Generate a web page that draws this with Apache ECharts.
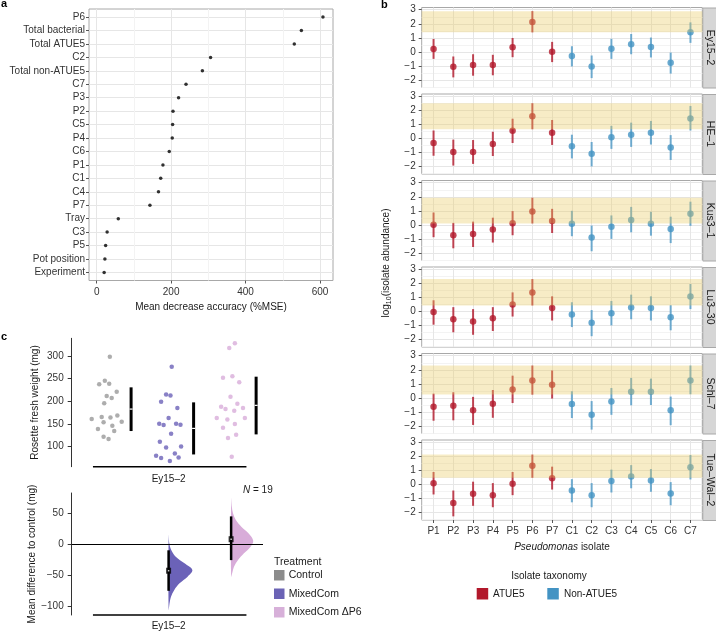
<!DOCTYPE html>
<html>
<head>
<meta charset="utf-8">
<script src="https://cdn.jsdelivr.net/npm/echarts@6/dist/echarts.min.js"></script>
<style>
  html, body { margin: 0; padding: 0; background: #fff; }
  #chart { width: 716px; height: 634px; }
</style>
</head>
<body>
<div id="chart"></div>
<script>
  // ---- panel a: variable importance ----
  var importanceNames = ['P6', 'Total bacterial', 'Total ATUE5', 'C2', 'Total non-ATUE5', 'C7', 'P3', 'P2', 'C5', 'P4',
    'C6', 'P1', 'C1', 'C4', 'P7', 'Tray', 'C3', 'P5', 'Pot position', 'Experiment'];
  var importanceValues = [608, 550, 531, 306, 284, 240, 220, 205, 204, 203, 195, 178, 172, 166, 143, 58, 28, 24, 22, 20];
  var importanceTicks = [0, 200, 400, 600];
  var importanceMinor = [100, 300, 500];

  // ---- panel b: isolate abundance per accession (mean and interval) ----
  var isolates = ['P1', 'P2', 'P3', 'P4', 'P5', 'P6', 'P7', 'C1', 'C2', 'C3', 'C4', 'C5', 'C6', 'C7'];
  var accessions = ['Ey15\u20132', 'HE\u20131', 'Kus3\u20131', 'Lu3\u201330', 'Schl\u20137', 'Tue\u2013Wal\u20132'];
  var abundanceTicks = [-2, -1, 0, 1, 2, 3];
  var abundanceMinor = [-2.5, -1.5, -0.5, 0.5, 1.5, 2.5];

  var ey15Mean = [0.21, -1.06, -0.94, -0.94, 0.33, 2.12, 0.0, -0.3, -1.04, 0.22, 0.55, 0.34, -0.78, 1.4];
  var ey15Lo = [-0.5, -1.82, -1.7, -1.67, -0.38, 1.39, -0.73, -1.04, -1.87, -0.5, -0.17, -0.4, -1.55, 0.64];
  var ey15Hi = [0.92, -0.33, -0.17, -0.21, 0.99, 2.9, 0.71, 0.4, -0.26, 0.93, 1.27, 1.02, -0.05, 2.1];

  var he1Mean = [-0.33, -0.98, -0.98, -0.4, 0.54, 1.57, 0.4, -0.56, -1.1, 0.07, 0.26, 0.4, -0.65, 1.42];
  var he1Lo = [-1.24, -1.94, -1.82, -1.26, -0.33, 0.65, -0.47, -1.43, -2.0, -0.75, -0.61, -0.44, -1.54, 0.56];
  var he1Hi = [0.56, -0.09, -0.12, 0.47, 1.4, 2.5, 1.31, 0.26, -0.26, 0.89, 1.12, 1.24, 0.23, 2.31];

  var kus31Mean = [0.0, -0.74, -0.65, -0.33, 0.12, 0.95, 0.28, 0.07, -0.91, -0.14, 0.35, 0.07, -0.3, 0.79];
  var kus31Lo = [-0.88, -1.67, -1.58, -1.26, -0.74, 0.1, -0.58, -0.81, -1.88, -1.0, -0.53, -0.77, -1.3, -0.07];
  var kus31Hi = [0.88, 0.14, 0.23, 0.51, 0.98, 1.93, 1.14, 1.0, -0.05, 0.67, 1.28, 0.93, 0.58, 1.65];

  var lu330Mean = [-0.05, -0.56, -0.72, -0.49, 0.49, 1.35, 0.23, -0.23, -0.81, -0.14, 0.28, 0.23, -0.42, 1.05];
  var lu330Lo = [-0.95, -1.49, -1.67, -1.4, -0.37, 0.42, -0.65, -1.12, -1.77, -1.0, -0.56, -0.65, -1.35, 0.16];
  var lu330Hi = [0.79, 0.3, 0.16, 0.3, 1.35, 2.3, 1.07, 0.65, 0.09, 0.74, 1.19, 1.07, 0.44, 1.95];

  var schl7Mean = [-0.63, -0.56, -0.88, -0.42, 0.6, 1.23, 0.93, -0.44, -1.21, -0.26, 0.44, 0.44, -0.88, 1.23];
  var schl7Lo = [-1.63, -1.6, -1.93, -1.42, -0.37, 0.23, -0.05, -1.44, -2.26, -1.21, -0.53, -0.51, -1.95, 0.26];
  var schl7Hi = [0.3, 0.4, 0.07, 0.56, 1.58, 2.3, 1.95, 0.47, -0.23, 0.7, 1.42, 1.37, 0.09, 2.3];

  var tueWal2Mean = [0.07, -1.33, -0.67, -0.77, 0.05, 1.33, 0.44, -0.44, -0.77, 0.23, 0.56, 0.28, -0.65, 1.21];
  var tueWal2Lo = [-0.72, -2.28, -1.53, -1.63, -0.77, 0.47, -0.37, -1.28, -1.63, -0.58, -0.28, -0.53, -1.49, 0.35];
  var tueWal2Hi = [0.88, -0.44, 0.19, 0.09, 0.88, 2.12, 1.26, 0.37, 0.09, 1.05, 1.37, 1.09, 0.16, 2.09];

  // ---- panel c: rosette fresh weight (mg) ----
  var treatments = ['Control', 'MixedCom', 'MixedCom \u0394P6'];
  var controlWeight = [298.5, 245.6, 237.5, 239, 221.3, 211.8, 207.4, 195.6, 161, 165.4, 164.7, 169.1, 155.1, 138.9, 153.7, 146.3, 134.6, 122, 116.9];
  var controlJitter = [0.06, -0.02, -0.11, 0.05, 0.17, 0.01, 0.09, -0.03, -0.23, -0.07, 0.07, 0.18, 0.25, -0.13, -0.04, 0.1, 0.13, -0.04, 0.04];
  var mixedWeight = [276.5, 215.4, 213.2, 199.3, 185.3, 163.2, 150.7, 147.8, 150.7, 148.5, 128.7, 111, 98.5, 100.7, 85.3, 80.1, 75, 76.5, 68.4];
  var mixedJitter = [0.05, -0.04, 0.03, -0.12, 0.14, 0.0, -0.15, -0.08, 0.12, 0.19, 0.04, -0.14, -0.04, 0.2, 0.1, -0.2, -0.12, 0.16, 0.02];
  var p6Weight = [317.6, 327.9, 252.2, 255.1, 241.9, 210.3, 188.2, 183.1, 194.9, 179.4, 185.3, 163.2, 160.3, 150, 163.2, 141.9, 119, 126.5, 77.9];
  var p6Jitter = [-0.03, 0.06, -0.13, 0.02, 0.13, -0.01, -0.16, -0.09, 0.1, 0.05, 0.19, -0.23, -0.06, 0.06, 0.22, -0.13, -0.05, 0.08, 0.01];
  var groupMean = [183, 140.4, 191.2];
  var groupLo = [134.6, 83, 127.2];
  var groupHi = [230.9, 197.8, 254.4];
  var weightTicks = [100, 150, 200, 250, 300];

  // mean difference to control, with bootstrap interval and density outline
  var diffMean = [-42.6, 8.2];
  var diffLo = [-75, -25.5];
  var diffHi = [-9.7, 45];
  var diffTicks = [-100, -50, 0, 50];
  var mixedDensityY = [15, 1.6, -9.2, -20, -30.7, -41.5, -52.2, -63, -73.7, -84.5, -95.2, -106];
  var mixedDensityW = [0, 0.03, 0.11, 0.3, 0.67, 1, 0.8, 0.46, 0.24, 0.1, 0.04, 0];
  var p6DensityY = [74.2, 60.7, 50, 39.2, 28.4, 17.7, 5.9, -3.8, -14.5, -25.3, -36.1, -44.2, -52.2];
  var p6DensityW = [0, 0.03, 0.08, 0.2, 0.43, 0.73, 0.93, 0.82, 0.54, 0.29, 0.12, 0.06, 0];

  var FONT = '"Liberation Sans", Arial, sans-serif';
  var RED = '#b2182b', BLUE = '#4393c3';
  var RED_BAR = 'rgba(178,24,43,0.8)', BLUE_BAR = 'rgba(67,147,195,0.75)';
  var BAND = 'rgba(232,201,92,0.35)';
  var GRID_COLOR = '#e6e6e6', MINOR_COLOR = '#f3f3f3', FRAME = '#a8a8a8';
  var TXT = '#333', TITLE = '#1a1a1a';
  var GROUP_COLORS = ['#999999', '#6b62b8', '#d8acd9'];
  var LEGEND_COLORS = ['#8c8c8c', '#6b63b5', '#d7b0d9'];
  var NO_LINE = {show: false, onZero: false};

  function minus(v) { return v < 0 ? '\u2212' + Math.abs(v) : String(v); }
  function idx(arr) { return arr.map(function (n, i) { return i; }); }
  function labelStyle(extra) {
    var s = {fontSize: 10, color: TXT, fontFamily: FONT};
    for (var k in extra) s[k] = extra[k];
    return s;
  }

  var grids = [], xAxes = [], yAxes = [], series = [], graphics = [];

  // ================= panel a =================
  grids.push({left: 89, top: 9, width: 244, height: 271.5, show: true, borderColor: FRAME, borderWidth: 1, backgroundColor: '#fff'});
  xAxes.push({
    gridIndex: 0, type: 'value', position: 'bottom', min: -20.7, max: 635,
    axisLine: NO_LINE,
    axisTick: {customValues: importanceTicks, length: 3, lineStyle: {color: '#555'}},
    axisLabel: labelStyle({customValues: importanceTicks, margin: 7}),
    splitLine: {lineStyle: {color: GRID_COLOR}},
    name: 'Mean decrease accuracy (%MSE)', nameLocation: 'middle', nameGap: 22,
    nameTextStyle: {fontSize: 10, color: TITLE, fontFamily: FONT}
  });
  xAxes.push({
    gridIndex: 0, type: 'value', position: 'bottom', min: -20.7, max: 635,
    axisLine: NO_LINE, axisLabel: {show: false},
    axisTick: {show: false, customValues: importanceMinor},
    splitLine: {lineStyle: {color: MINOR_COLOR}}
  });
  yAxes.push({
    gridIndex: 0, type: 'value', position: 'left', inverse: true, min: -0.6, max: importanceNames.length - 0.4,
    axisLine: NO_LINE,
    axisTick: {customValues: idx(importanceNames), length: 3, lineStyle: {color: '#555'}},
    axisLabel: labelStyle({customValues: idx(importanceNames), margin: 4,
      formatter: function (v) { return importanceNames[v]; }}),
    splitLine: {lineStyle: {color: GRID_COLOR}}
  });
  series.push({
    type: 'scatter', xAxisIndex: 0, yAxisIndex: 0, symbolSize: 3.5, z: 3,
    itemStyle: {color: '#000'},
    data: importanceValues.map(function (v, i) { return [v, i]; })
  });

  // ================= panel b =================
  var facetMean = [ey15Mean, he1Mean, kus31Mean, lu330Mean, schl7Mean, tueWal2Mean];
  var facetLo = [ey15Lo, he1Lo, kus31Lo, lu330Lo, schl7Lo, tueWal2Lo];
  var facetHi = [ey15Hi, he1Hi, kus31Hi, lu330Hi, schl7Hi, tueWal2Hi];
  var p6 = isolates.indexOf('P6');
  var isAtue5 = function (i) { return isolates[i].charAt(0) === 'P'; };

  function renderErrorBar(params, api) {
    var a = api.coord([api.value(0), api.value(1)]);
    var b = api.coord([api.value(0), api.value(2)]);
    return {
      type: 'line',
      shape: {x1: a[0], y1: a[1], x2: b[0], y2: b[1]},
      style: {stroke: isAtue5(params.dataIndex) ? RED_BAR : BLUE_BAR, lineWidth: 2}
    };
  }
  function renderBand(params, api) {
    var cs = params.coordSys;
    var yLo = api.coord([0, api.value(0)])[1];
    var yHi = api.coord([0, api.value(1)])[1];
    return {type: 'rect', shape: {x: cs.x, y: yHi, width: cs.width, height: yLo - yHi}, style: {fill: BAND}};
  }

  for (var f = 0; f < accessions.length; f++) {
    var facetTop = 7.5 + f * 86.5;
    var g = grids.length;
    var last = f === accessions.length - 1;
    grids.push({left: 421.7, top: facetTop, width: 280.6, height: 80, show: true, borderColor: FRAME, borderWidth: 1, backgroundColor: '#fff'});
    var xi = xAxes.length;
    xAxes.push({
      gridIndex: g, type: 'value', position: 'bottom', min: -0.6, max: isolates.length - 0.4,
      axisLine: NO_LINE,
      axisTick: {show: last, customValues: idx(isolates), length: 3, lineStyle: {color: '#555'}},
      axisLabel: labelStyle({show: last, customValues: idx(isolates), margin: 6,
        formatter: function (v) { return isolates[v]; }}),
      splitLine: {lineStyle: {color: GRID_COLOR}},
      name: last ? '{i|Pseudomonas} isolate' : '', nameLocation: 'middle', nameGap: 22,
      nameTextStyle: {fontSize: 10, color: TITLE, fontFamily: FONT,
        rich: {i: {fontSize: 10, fontStyle: 'italic', color: TITLE, fontFamily: FONT}}}
    });
    var yi = yAxes.length;
    yAxes.push({
      gridIndex: g, type: 'value', position: 'left', min: -2.54, max: 3.16,
      axisLine: NO_LINE,
      axisTick: {customValues: abundanceTicks, length: 3, lineStyle: {color: '#555'}},
      axisLabel: labelStyle({customValues: abundanceTicks, margin: 6, formatter: minus}),
      splitLine: {lineStyle: {color: GRID_COLOR}}
    });
    yAxes.push({
      gridIndex: g, type: 'value', position: 'left', min: -2.54, max: 3.16,
      axisLine: NO_LINE, axisLabel: {show: false},
      axisTick: {show: false, customValues: abundanceMinor},
      splitLine: {lineStyle: {color: MINOR_COLOR}}
    });
    var mean = facetMean[f], lo = facetLo[f], hi = facetHi[f];
    series.push({
      type: 'custom', xAxisIndex: xi, yAxisIndex: yi, z: 2, renderItem: renderErrorBar,
      data: isolates.map(function (n, i) { return [i, lo[i], hi[i]]; })
    });
    series.push({
      type: 'scatter', xAxisIndex: xi, yAxisIndex: yi, z: 3, symbolSize: 6.5,
      itemStyle: {color: function (p) { return isAtue5(p.dataIndex) ? RED : BLUE; }},
      data: mean.map(function (v, i) { return [i, v]; })
    });
    // shaded band = interval of P6 in this accession
    series.push({
      type: 'custom', xAxisIndex: xi, yAxisIndex: yi, z: 5, renderItem: renderBand,
      data: [[lo[p6], hi[p6]]]
    });
    // facet strip
    graphics.push({type: 'rect', left: 702.3, top: facetTop, shape: {width: 14, height: 80},
      style: {fill: '#d6d6d6', stroke: FRAME, lineWidth: 1}});
    graphics.push({type: 'text', x: 709.6, y: facetTop + 40, rotation: -Math.PI / 2,
      style: {text: accessions[f], fill: TITLE, font: '10.5px ' + FONT, textAlign: 'center', textVerticalAlign: 'middle'}});
  }

  graphics.push({type: 'text', x: 386, y: 263, rotation: Math.PI / 2,
    style: {text: '{a|log}{s|10}{a|(isolate abundance)}', textAlign: 'center', textVerticalAlign: 'middle',
      rich: {a: {fontSize: 10, lineHeight: 14, fill: TITLE, fontFamily: FONT},
             s: {fontSize: 7, lineHeight: 7, verticalAlign: 'bottom', fill: TITLE, fontFamily: FONT}}}});

  // legend b
  graphics.push({type: 'text', x: 549, y: 576, style: {text: 'Isolate taxonomy', fill: TITLE, font: '10px ' + FONT, textAlign: 'center', textVerticalAlign: 'middle'}});
  graphics.push({type: 'rect', left: 476.7, top: 588, shape: {width: 11.5, height: 11.5}, style: {fill: RED}});
  graphics.push({type: 'text', x: 493, y: 594, style: {text: 'ATUE5', fill: TITLE, font: '10px ' + FONT, textVerticalAlign: 'middle'}});
  graphics.push({type: 'rect', left: 547.3, top: 588, shape: {width: 11.5, height: 11.5}, style: {fill: BLUE}});
  graphics.push({type: 'text', x: 564, y: 594, style: {text: 'Non-ATUE5', fill: TITLE, font: '10px ' + FONT, textVerticalAlign: 'middle'}});

  // ================= panel c =================
  var X_MIN = -0.55, X_MAX = 2.51;
  var baselineSpan = [-0.21, 2.245];
  var barOffset = 0.4;
  var violinWidth = 0.38;
  var AXIS_LINE = {show: true, onZero: false, lineStyle: {color: '#333', width: 1}};

  function renderBaseline(params, api) {
    var yv = api.value(0);
    var a = api.coord([baselineSpan[0], yv]);
    var b = api.coord([baselineSpan[1], yv]);
    return {type: 'line', shape: {x1: a[0], y1: a[1], x2: b[0], y2: b[1]}, style: {stroke: '#000', lineWidth: 1.5}};
  }
  function renderMeanSd(params, api) {
    var x = api.value(0);
    var a = api.coord([x, api.value(1)]);
    var b = api.coord([x, api.value(2)]);
    var m = api.coord([x, api.value(3)]);
    return {type: 'group', children: [
      {type: 'line', shape: {x1: a[0], y1: a[1], x2: b[0], y2: b[1]}, style: {stroke: '#000', lineWidth: 3}},
      {type: 'rect', shape: {x: m[0] - 1.5, y: m[1] - 0.6, width: 3, height: 1.2}, style: {fill: '#fff'}}
    ]};
  }

  var gTop = grids.length;
  grids.push({left: 71.7, top: 338.3, width: 191.3, height: 128.4});
  var xTop = xAxes.length;
  xAxes.push({
    gridIndex: gTop, type: 'value', position: 'bottom', min: X_MIN, max: X_MAX,
    axisLine: NO_LINE, axisTick: {show: false}, splitLine: {show: false},
    axisLabel: labelStyle({customValues: [1], margin: 8, color: TITLE, formatter: function () { return accessions[0]; }})
  });
  var yTop = yAxes.length;
  yAxes.push({
    gridIndex: gTop, type: 'value', position: 'left', min: 56, max: 339,
    axisLine: AXIS_LINE,
    axisTick: {customValues: weightTicks, length: 4, lineStyle: {color: '#333'}},
    axisLabel: labelStyle({customValues: weightTicks, margin: 8}),
    splitLine: {show: false},
    name: 'Rosette fresh weight (mg)', nameLocation: 'middle', nameGap: 31,
    nameTextStyle: {fontSize: 10, color: TITLE, fontFamily: FONT}
  });
  var weights = [controlWeight, mixedWeight, p6Weight];
  var jitters = [controlJitter, mixedJitter, p6Jitter];
  weights.forEach(function (w, t) {
    series.push({
      type: 'scatter', xAxisIndex: xTop, yAxisIndex: yTop, symbolSize: 4.5, clip: false, z: 3,
      itemStyle: {color: GROUP_COLORS[t]},
      data: w.map(function (v, k) { return [t + jitters[t][k], v]; })
    });
  });
  series.push({
    type: 'custom', xAxisIndex: xTop, yAxisIndex: yTop, z: 4, renderItem: renderMeanSd,
    data: groupMean.map(function (m, t) { return [t + barOffset, groupLo[t], groupHi[t], m]; })
  });
  series.push({type: 'custom', xAxisIndex: xTop, yAxisIndex: yTop, z: 4, renderItem: renderBaseline, data: [[56]]});

  // lower: mean differences
  var gBot = grids.length;
  grids.push({left: 71.7, top: 493, width: 191.3, height: 122});
  var xBot = xAxes.length;
  xAxes.push({
    gridIndex: gBot, type: 'value', position: 'bottom', min: X_MIN, max: X_MAX,
    axisLine: NO_LINE, axisTick: {show: false}, splitLine: {show: false},
    axisLabel: labelStyle({customValues: [1], margin: 6, color: TITLE, formatter: function () { return accessions[0]; }})
  });
  var yBot = yAxes.length;
  yAxes.push({
    gridIndex: gBot, type: 'value', position: 'left', min: -114, max: 82.7,
    axisLine: AXIS_LINE,
    axisTick: {customValues: diffTicks, length: 4, lineStyle: {color: '#333'}},
    axisLabel: labelStyle({customValues: diffTicks, margin: 8, formatter: minus}),
    splitLine: {show: false},
    name: 'Mean difference to control (mg)', nameLocation: 'middle', nameGap: 31,
    nameTextStyle: {fontSize: 10, color: TITLE, fontFamily: FONT}
  });

  var densY = [mixedDensityY, p6DensityY];
  var densW = [mixedDensityW, p6DensityW];
  function renderViolin(params, api) {
    var k = params.dataIndex;
    var base = api.value(0);
    var ys = densY[k], ws = densW[k];
    var pts = [];
    for (var j = 0; j < ys.length; j++) pts.push(api.coord([base + ws[j] * violinWidth, ys[j]]));
    return {type: 'polygon', shape: {points: pts, smooth: 0.35}, style: {fill: GROUP_COLORS[k + 1]}};
  }
  series.push({
    type: 'custom', xAxisIndex: xBot, yAxisIndex: yBot, z: 2, renderItem: renderViolin,
    data: diffMean.map(function (m, k) { return [k + 1, m]; }),
    markLine: {silent: true, symbol: 'none', label: {show: false},
      lineStyle: {color: '#000', width: 1, type: 'solid'}, data: [{yAxis: 0}]}
  });
  series.push({
    type: 'custom', xAxisIndex: xBot, yAxisIndex: yBot, z: 4,
    renderItem: function (params, api) {
      var a = api.coord([api.value(0), api.value(1)]);
      var b = api.coord([api.value(0), api.value(2)]);
      return {type: 'line', shape: {x1: a[0], y1: a[1], x2: b[0], y2: b[1]}, style: {stroke: '#000', lineWidth: 2.5}};
    },
    data: diffMean.map(function (m, k) { return [k + 1, diffLo[k], diffHi[k]]; })
  });
  // mean difference marker: black box with a small white centre
  series.push({
    type: 'scatter', xAxisIndex: xBot, yAxisIndex: yBot, z: 5, symbol: 'rect', symbolSize: [5, 6],
    itemStyle: {color: '#000'},
    data: diffMean.map(function (m, k) { return [k + 1, m]; })
  });
  series.push({
    type: 'scatter', xAxisIndex: xBot, yAxisIndex: yBot, z: 6, symbol: 'rect', symbolSize: [1.5, 1.5],
    itemStyle: {color: '#fff'},
    data: diffMean.map(function (m, k) { return [k + 1, m]; })
  });
  series.push({type: 'custom', xAxisIndex: xBot, yAxisIndex: yBot, z: 4, renderItem: renderBaseline, data: [[-114]]});

  graphics.push({type: 'text', x: 243, y: 490,
    style: {text: '{i|N} = 19', textVerticalAlign: 'middle', font: '10px ' + FONT, fill: TITLE,
      rich: {i: {fontStyle: 'italic', fontSize: 10, fontFamily: FONT, fill: TITLE}}}});

  // legend c
  graphics.push({type: 'text', x: 274, y: 562, style: {text: 'Treatment', fill: TITLE, font: '10.5px ' + FONT, textVerticalAlign: 'middle'}});
  treatments.forEach(function (name, t) {
    var yy = 570 + t * 18.5;
    graphics.push({type: 'rect', left: 274, top: yy, shape: {width: 10.5, height: 10.5}, style: {fill: LEGEND_COLORS[t]}});
    graphics.push({type: 'text', x: 288.7, y: yy + 5.5, style: {text: name, fill: TITLE, font: '10.5px ' + FONT, textVerticalAlign: 'middle'}});
  });

  // panel letters
  [['a', 1, 4], ['b', 381, 5], ['c', 1, 337]].forEach(function (l) {
    graphics.push({type: 'text', x: l[1], y: l[2], style: {text: l[0], fill: '#000', font: 'bold 11px ' + FONT, textVerticalAlign: 'middle'}});
  });

  var chart = echarts.init(document.getElementById('chart'));
  chart.setOption({
    backgroundColor: '#fff',
    animation: false,
    grid: grids,
    xAxis: xAxes,
    yAxis: yAxes,
    series: series,
    graphic: graphics
  });
  window.addEventListener('resize', function () { chart.resize(); });
</script>
</body>
</html>
